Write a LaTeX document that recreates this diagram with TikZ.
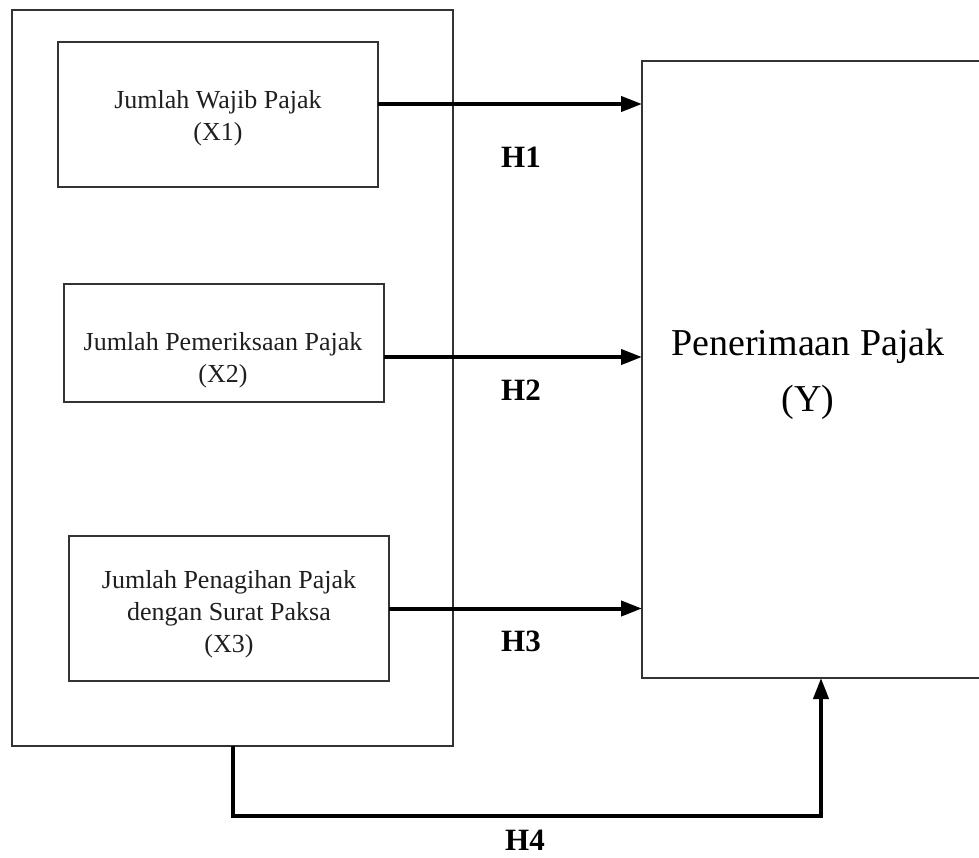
\documentclass[tikz,border=0pt]{standalone}
\usepackage{fontspec}
\setmainfont{Liberation Serif}
\usetikzlibrary{arrows.meta}
\begin{document}
\begin{tikzpicture}[x=1pt,y=-1pt,
  box/.style={draw=black!80, line width=1.2pt, inner sep=0pt, outer sep=0pt},
  boxtext/.style={align=center, font=\fontsize{26}{32}\selectfont, text=black!88},
  ytext/.style={align=center, font=\fontsize{38}{56}\selectfont},
  hlabel/.style={font=\fontsize{31}{36}\selectfont\bfseries},
  arr/.style={line width=4pt, -{Triangle[length=21pt,width=15pt]}}]
\useasboundingbox (0,0) rectangle (979,857);
% boxes
\node[box, minimum width=441pt, minimum height=736pt] (outer) at (232.5,378) {};
\node[box, minimum width=320pt, minimum height=145pt] (b1) at (218,114.5) {};
\node[box, minimum width=320pt, minimum height=118pt] (b2) at (224,343) {};
\node[box, minimum width=320pt, minimum height=145pt] (b3) at (229,608.5) {};
\node[box, minimum width=358pt, minimum height=617pt] (Y) at (821,369.5) {};
% texts
\node[boxtext] (t1) at (218,118) {Jumlah Wajib Pajak\\(X1)};
\node[boxtext] (t2) at (223,360) {Jumlah Pemeriksaan Pajak\\(X2)};
\node[boxtext] (t3) at (229,614) {Jumlah Penagihan Pajak\\dengan Surat Paksa\\(X3)};
\node[ytext] (ty) at (808,374) {Penerimaan Pajak\\(Y)};
% arrows
\draw[arr] ([yshift=10.5pt]b1.east) coordinate (a1) -- (a1 -| Y.west);
\draw[arr] ([yshift=-14pt]b2.east) coordinate (a2) -- (a2 -| Y.west);
\draw[arr] (b3.east) -- (b3.east -| Y.west);
\draw[arr] (outer.south) -- ++(0,70) -| (Y.south);
% labels
\node[hlabel] (h1) at (521,157) {H1};
\node[hlabel] (h2) at (521,390) {H2};
\node[hlabel] (h3) at (521,641) {H3};
\node[hlabel] (h4) at (525,840) {H4};
\end{tikzpicture}
\end{document}
